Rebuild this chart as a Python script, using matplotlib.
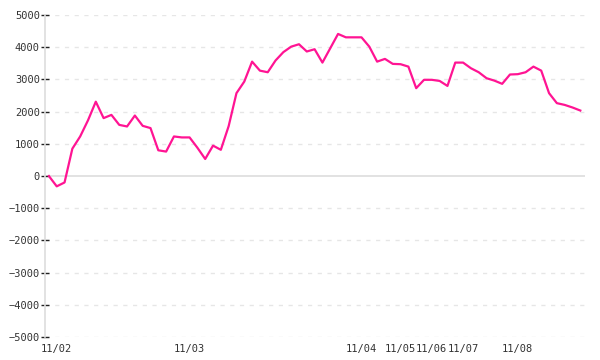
import matplotlib
matplotlib.use("Agg")
import matplotlib.pyplot as plt

# 値 (インデックス順、等間隔)
values = [
    0, -320, -200, 850, 1230, 1730, 2310, 1800, 1900, 1590,
    1540, 1880, 1560, 1490, 800, 760, 1230, 1200, 1200, 880,
    530, 945, 815, 1550, 2575, 2935, 3555, 3275, 3225, 3590,
    3850, 4020, 4095, 3870, 3940, 3525, 3970, 4415, 4310, 4310,
    4310, 4020, 3555, 3640, 3485, 3475, 3400, 2730, 2990, 2990,
    2955, 2800, 3525, 3525, 3350, 3225, 3040, 2965, 2865, 3155,
    3165, 3225, 3400, 3275, 2575, 2265, 2210, 2130, 2035,
]
tick_pos = [1, 18, 40, 45, 49, 53, 60]
tick_labels = ["11/02", "11/03", "11/04", "11/05", "11/06", "11/07", "11/08"]
y_ticks = list(range(-5000, 5001, 1000))

fig = plt.figure(figsize=(6, 3.6), dpi=100)
ax = fig.add_axes([0.075, 0.064, 0.9, 0.894])

for yv in y_ticks:
    if yv == 0:
        ax.axhline(0, color="#dddddd", lw=1.2, zorder=1)
    else:
        ax.axhline(yv, color="#e6e6e6", lw=1, ls=(0, (3, 4)), zorder=1)

ax.plot(range(len(values)), values, color="#ff1493", lw=1.6, zorder=3)

ax.set_xlim(-0.5, 68.6)
ax.set_ylim(-5000, 5000)
ax.set_yticks(y_ticks)
ax.set_yticklabels([str(v).replace("-", "\u2212") for v in y_ticks])
ax.set_xticks(tick_pos)
ax.set_xticklabels(tick_labels)

for s in ("top", "right", "bottom"):
    ax.spines[s].set_visible(False)
ax.spines["left"].set_color("#dddddd")
ax.spines["left"].set_linewidth(1.2)

ax.tick_params(axis="y", direction="inout", length=6.3, width=1, color="#222222",
               pad=0.5, labelsize=7.5, labelcolor="#333333")
ax.tick_params(axis="x", length=0, pad=5, labelsize=7.5, labelcolor="#333333")
for lab in ax.get_xticklabels() + ax.get_yticklabels():
    lab.set_family("DejaVu Sans Mono")

fig.savefig("out.png", dpi=100)
